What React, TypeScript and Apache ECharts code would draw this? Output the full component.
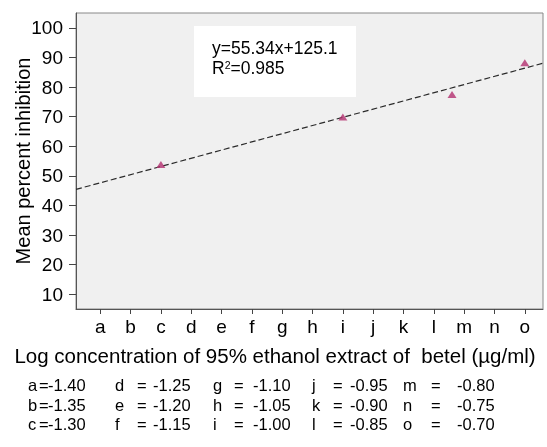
import React, { useEffect, useRef } from "react";
import * as echarts from "echarts";

const letters = ["a", "b", "c", "d", "e", "f", "g", "h", "i", "j", "k", "l", "m", "n", "o"];
const xValues = [-1.4, -1.35, -1.3, -1.25, -1.2, -1.15, -1.1, -1.05, -1.0, -0.95, -0.9, -0.85, -0.8, -0.75, -0.7];
const yTicks = [10, 20, 30, 40, 50, 60, 70, 80, 90, 100];
const pointX = [-1.3, -1.0, -0.82, -0.7];
const pointY = [53.8, 69.9, 77.5, 88.2];
const slope = 55.34;
const intercept = 125.1;
const xMin = -1.44;
const xMax = -0.67;

const FONT = "'Liberation Sans', Arial, sans-serif";

export default function App() {
  const ref = useRef<HTMLDivElement>(null);
  useEffect(() => {
    const chart = echarts.init(ref.current!, undefined, { renderer: "svg" });

    const trend = [
      [xMin, slope * xMin + intercept],
      [xMax, slope * xMax + intercept],
    ];

    // legend graphic texts
    const colLetterX = [28, 115, 213, 312, 403];
    const colEqX = [39, 137, 234, 333, 431];
    const colValX = [48, 153, 253, 350, 457];
    const rowY = [385, 405, 424];
    const legendEls: any[] = [];
    letters.forEach((l, idx) => {
      const c = Math.floor(idx / 3);
      const r = idx % 3;
      const st = { fontSize: 16.5, fontFamily: FONT, fill: "#000", textVerticalAlign: "middle" };
      legendEls.push({ type: "text", x: colLetterX[c], y: rowY[r], style: { ...st, text: l } });
      legendEls.push({ type: "text", x: colEqX[c], y: rowY[r], style: { ...st, text: "=" } });
      legendEls.push({ type: "text", x: colValX[c], y: rowY[r], style: { ...st, text: xValues[idx].toFixed(2) } });
    });

    const fmtX = (v: number) => {
      const i = xValues.findIndex((x) => Math.abs(x - v) < 1e-6);
      return i >= 0 ? letters[i] : "";
    };

    chart.setOption({
      animation: false,
      textStyle: { fontFamily: FONT },
      grid: {
        left: 76,
        right: 4,
        top: 13,
        bottom: 138,
        outerBoundsMode: "none",
        containLabel: false,
        show: true,
        backgroundColor: "#f0f0f0",
        borderColor: "#888",
        borderWidth: 1,
      },
      xAxis: {
        type: "value",
        min: xMin,
        max: xMax,
        name: "Log concentration of 95% ethanol extract of  betel (µg/ml)",
        nameLocation: "middle",
        nameGap: 36,
        nameMoveOverlap: false,
        nameTextStyle: { fontSize: 20.5, color: "#000", fontFamily: FONT, padding: [0, 69, 0, 0] },
        axisLine: { show: true, lineStyle: { color: "#555", width: 1 } },
        axisTick: { show: true, length: 5, customValues: xValues, lineStyle: { color: "#444" } },
        axisLabel: {
          customValues: xValues,
          formatter: fmtX,
          fontSize: 19,
          color: "#000",
          margin: 8,
          fontFamily: FONT,
        },
        splitLine: { show: false },
      },
      yAxis: {
        type: "value",
        min: 5,
        max: 105,
        name: "Mean percent inhibition",
        nameLocation: "middle",
        nameGap: 43,
        nameMoveOverlap: false,
        nameTextStyle: { fontSize: 20, color: "#000", fontFamily: FONT },
        axisLine: { show: true, lineStyle: { color: "#555", width: 1 } },
        axisTick: { show: true, length: 7, customValues: yTicks, lineStyle: { color: "#444" } },
        axisLabel: { customValues: yTicks, fontSize: 19, color: "#000", margin: 13, fontFamily: FONT },
        splitLine: { show: false },
      },
      graphic: [
        {
          type: "rect",
          shape: { x: 194, y: 26, width: 162, height: 71 },
          style: { fill: "#ffffff" },
          z: 1,
        },
        {
          type: "text",
          x: 212,
          y: 48,
          z: 2,
          style: { text: "y=55.34x+125.1", fontSize: 17.5, fontFamily: FONT, fill: "#000", textVerticalAlign: "middle" },
        },
        {
          type: "text",
          x: 212,
          y: 59,
          z: 2,
          style: {
            text: "R{s|2}=0.985",
            fontSize: 17.5,
            fontFamily: FONT,
            fill: "#000",
            lineHeight: 17,
            rich: {
              s: { fontSize: 10.5, fontFamily: FONT, fill: "#000", verticalAlign: "top", lineHeight: 17 },
            },
          },
        },
        ...legendEls,
      ],
      series: [
        {
          type: "line",
          data: trend,
          symbol: "none",
          lineStyle: { color: "#2a2a2a", width: 1.2, type: [6, 3] },
          z: 3,
        },
        {
          type: "scatter",
          data: pointX.map((x, i) => [x, pointY[i]]),
          symbol: "triangle",
          symbolSize: [9, 7],
          itemStyle: { color: "#b3306f" },
          z: 4,
        },
      ],
    });
    return () => chart.dispose();
  }, []);
  return <div ref={ref} style={{ position: "fixed", left: 0, top: 0, width: 547, height: 447 }} />;
}
